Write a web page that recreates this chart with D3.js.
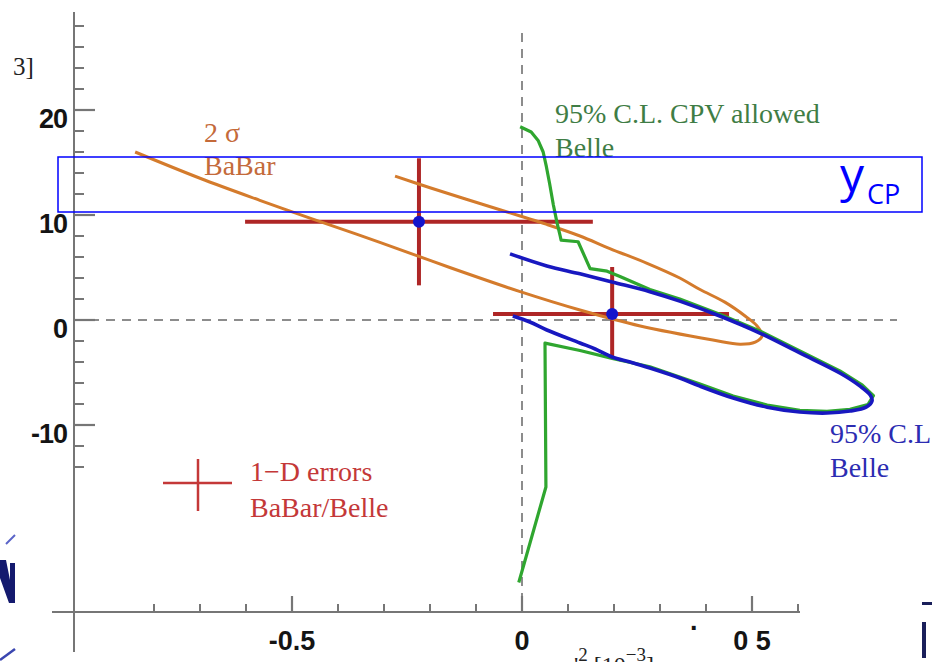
<!DOCTYPE html>
<html>
<head>
<meta charset="utf-8">
<script src="https://cdn.jsdelivr.net/npm/d3@7"></script>
<style>
  html, body { margin: 0; padding: 0; background: #fff; }
  svg { display: block; }
</style>
</head>
<body>
<svg id="chart" width="932" height="662"></svg>
<script>
// ---- data (x'^2 in 1e-3, y' in 1e-3) ----
const babarContour = [
  [-0.841, 16.0], [-0.700, 13.5], [-0.570, 11.4], [-0.461, 9.7], [-0.309, 7.4],
  [-0.157, 5.0], [-0.004, 2.7], [0.126, 0.95], [0.257, -0.57], [0.415, -1.9],
  [0.474, -2.3], [0.507, -2.1], [0.522, -1.5], [0.511, -0.57], [0.485, 0.38],
  [0.441, 1.7], [0.387, 2.9], [0.343, 4.0], [0.272, 5.4], [0.191, 6.8],
  [0.126, 8.0], [0.054, 9.1], [-0.004, 9.9], [-0.128, 11.6], [-0.200, 12.6],
  [-0.276, 13.7]
];

const belleContour = [
  [-0.026, 6.3], [0.054, 5.15], [0.126, 4.4], [0.198, 3.6], [0.278, 2.7],
  [0.343, 1.8], [0.430, 0.38], [0.517, -1.24], [0.604, -3.14], [0.691, -5.05],
  [0.735, -6.3], [0.757, -7.15], [0.761, -7.7], [0.748, -8.3], [0.713, -8.67],
  [0.663, -8.86], [0.604, -8.76], [0.533, -8.3], [0.459, -7.43], [0.387, -6.3],
  [0.343, -5.52], [0.278, -4.57], [0.235, -4.0], [0.196, -3.52], [0.159, -2.76],
  [0.126, -2.19], [0.054, -0.95], [0.017, -0.19], [-0.020, 0.38]
];

const belleCpvAllowed = [
  [-0.004, 18.4], [0.020, 17.9], [0.035, 17.1], [0.046, 16.0], [0.053, 14.6],
  [0.060, 13.0], [0.068, 11.0], [0.076, 9.3], [0.083, 8.0], [0.085, 7.6],
  [0.122, 7.45], [0.148, 4.9], [0.185, 4.65], [0.213, 4.15], [0.278, 2.9],
  [0.343, 2.0], [0.430, 0.55], [0.517, -1.05], [0.604, -2.95], [0.691, -4.85],
  [0.740, -6.2], [0.764, -7.2], [0.752, -8.05], [0.713, -8.5], [0.663, -8.7],
  [0.604, -8.6], [0.533, -8.1], [0.459, -7.25], [0.387, -6.1], [0.278, -4.45],
  [0.196, -3.65], [0.126, -2.9], [0.050, -2.2], [0.052, -15.9], [-0.007, -25.0]
];

// measurements: central value with lower/upper edges of the 1-D errors
const measurementNames = ["BaBar", "Belle"];
const measX   = [-0.224, 0.196];
const measXLo = [-0.602, -0.063];
const measXHi = [0.154, 0.450];
const measY   = [9.35, 0.57];
const measYLo = [3.3, -3.52];
const measYHi = [15.4, 5.05];

const xMinorTicks = d3.range(-8, 7).map(d => d / 10);
const xMajorTicks = [-0.5, 0, 0.5];
const xTickLabels = ["-0.5", "0", "0 5"];
const yMinorTicks = d3.range(-14, 29, 2);
const yMajorTicks = [-10, 0, 10, 20];
const yTickLabels = ["-10", "0", "10", "20"];

// ---- scales ----
const x = d3.scaleLinear().domain([-0.8, 0.6]).range([154, 798]);
const y = d3.scaleLinear().domain([-28, 28]).range([614, 26]);

const svg = d3.select("#chart");
svg.append("rect").attr("width", 932).attr("height", 662).attr("fill", "#fff");

const axisX0 = 74;    // vertical axis position
const axisY0 = 612;   // horizontal axis position
const axisColor = "#767676";

// reference dashed lines at zero
svg.append("line")
  .attr("x1", axisX0).attr("x2", 897).attr("y1", y(0)).attr("y2", y(0))
  .attr("stroke", "#8c8c8c").attr("stroke-width", 2).attr("stroke-dasharray", "9,7");
svg.append("line")
  .attr("x1", x(0)).attr("x2", x(0)).attr("y1", 33).attr("y2", axisY0)
  .attr("stroke", "#8c8c8c").attr("stroke-width", 2).attr("stroke-dasharray", "9,7");

// axis lines
svg.append("line").attr("x1", axisX0).attr("x2", axisX0).attr("y1", 12).attr("y2", 652)
  .attr("stroke", axisColor).attr("stroke-width", 2);
svg.append("line").attr("x1", 52).attr("x2", x(0.6) + 2).attr("y1", axisY0).attr("y2", axisY0)
  .attr("stroke", axisColor).attr("stroke-width", 2);

// y ticks (pointing into the plot)
svg.append("g").selectAll("line").data(yMinorTicks).join("line")
  .attr("x1", axisX0).attr("x2", axisX0 + 10)
  .attr("y1", d => y(d)).attr("y2", d => y(d))
  .attr("stroke", axisColor).attr("stroke-width", 2);
svg.append("g").selectAll("line").data(yMajorTicks).join("line")
  .attr("x1", axisX0).attr("x2", axisX0 + 21)
  .attr("y1", d => y(d)).attr("y2", d => y(d))
  .attr("stroke", axisColor).attr("stroke-width", 2.2);
svg.append("g").selectAll("text").data(yMajorTicks).join("text")
  .attr("x", 67).attr("y", d => y(d) + 18)
  .attr("text-anchor", "end")
  .attr("font-family", "'Liberation Sans', Arial, sans-serif")
  .attr("font-weight", "bold").attr("font-size", 27).attr("fill", "#141414")
  .attr("letter-spacing", -1)
  .text((d, i) => yTickLabels[i]);

// x ticks (pointing up)
svg.append("g").selectAll("line").data(xMinorTicks).join("line")
  .attr("x1", d => x(d)).attr("x2", d => x(d))
  .attr("y1", axisY0).attr("y2", axisY0 - 8)
  .attr("stroke", axisColor).attr("stroke-width", 2);
svg.append("g").selectAll("line").data(xMajorTicks).join("line")
  .attr("x1", d => x(d)).attr("x2", d => x(d))
  .attr("y1", axisY0).attr("y2", axisY0 - 16)
  .attr("stroke", axisColor).attr("stroke-width", 2.2);
svg.append("g").selectAll("text").data(xMajorTicks).join("text")
  .attr("x", d => x(d)).attr("y", 650)
  .attr("text-anchor", "middle")
  .attr("font-family", "'Liberation Sans', Arial, sans-serif")
  .attr("font-weight", "bold").attr("font-size", 27).attr("fill", "#141414")
  .text((d, i) => xTickLabels[i]);
svg.append("text").attr("x", 690).attr("y", 630)
  .attr("font-family", "'Liberation Sans', Arial, sans-serif")
  .attr("font-weight", "bold").attr("font-size", 27).attr("fill", "#141414")
  .text(".");

// axis titles (partly off the page)
const xTitle = svg.append("text").attr("x", 562).attr("y", 673)
  .attr("font-family", "'Liberation Serif', 'Times New Roman', serif")
  .attr("font-size", 24).attr("fill", "#222");
xTitle.append("tspan").text("x'");
xTitle.append("tspan").attr("dy", -12).attr("font-size", 19).text("2");
xTitle.append("tspan").attr("dy", 12).text(" [10");
xTitle.append("tspan").attr("dy", -12).attr("font-size", 19).text("−3");
xTitle.append("tspan").attr("dy", 12).text("]");

svg.append("text").attr("x", 13).attr("y", 75)
  .attr("font-family", "'Liberation Serif', 'Times New Roman', serif")
  .attr("font-size", 25).attr("fill", "#222")
  .text("3]");

// ---- contours ----
const smooth = d3.line().x(d => x(d[0])).y(d => y(d[1])).curve(d3.curveCatmullRom.alpha(0.5));
const straight = d3.line().x(d => x(d[0])).y(d => y(d[1]));

// 1-D error bars
const errColor = "#ae2626";
const eb = svg.append("g");
measX.forEach((cx, i) => {
  eb.append("line").attr("x1", x(measXLo[i])).attr("x2", x(measXHi[i]))
    .attr("y1", y(measY[i])).attr("y2", y(measY[i]))
    .attr("stroke", errColor).attr("stroke-width", 4);
  eb.append("line").attr("x1", x(cx)).attr("x2", x(cx))
    .attr("y1", y(measYLo[i])).attr("y2", y(measYHi[i]))
    .attr("stroke", errColor).attr("stroke-width", 4);
});

svg.append("path").datum(babarContour).attr("d", smooth)
  .attr("fill", "none").attr("stroke", "#d47b2c").attr("stroke-width", 3);

svg.append("path").datum(belleCpvAllowed).attr("d", straight)
  .attr("fill", "none").attr("stroke", "#2fa62f").attr("stroke-width", 3.2)
  .attr("stroke-linejoin", "round");

svg.append("path").datum(belleContour).attr("d", smooth)
  .attr("fill", "none").attr("stroke", "#1818c0").attr("stroke-width", 3.6);

svg.append("g").selectAll("circle").data(measX).join("circle")
  .attr("cx", d => x(d)).attr("cy", (d, i) => y(measY[i]))
  .attr("r", 6).attr("fill", "#1414cc");

// ---- annotations ----
const serif = "'Liberation Serif', 'Times New Roman', serif";
function label(lines, x0, y0, dy, color) {
  lines.forEach((t, i) => {
    svg.append("text").attr("x", x0).attr("y", y0 + i * dy)
      .attr("font-family", serif).attr("font-size", 28).attr("fill", color)
      .text(t);
  });
}
label(["2 σ", "BaBar"], 204, 142, 33, "#c46a3a");
label(["95% C.L. CPV allowed", "Belle"], 555, 123, 34, "#3f7d45");
label(["95% C.L", "Belle"], 830, 443, 34, "#2c2cb2");
label(["1−D errors", "BaBar/Belle"], 250, 481, 36, "#c43838");

// legend glyph for the error bars
svg.append("line").attr("x1", 163).attr("x2", 232).attr("y1", 483).attr("y2", 483)
  .attr("stroke", "#c43838").attr("stroke-width", 2.5);
svg.append("line").attr("x1", 198).attr("x2", 198).attr("y1", 459).attr("y2", 511)
  .attr("stroke", "#c43838").attr("stroke-width", 2.5);

// y_CP highlight band
svg.append("rect").attr("x", 58).attr("y", 157).attr("width", 864).attr("height", 55)
  .attr("fill", "none").attr("stroke", "#0000ff").attr("stroke-width", 1.5);
svg.append("text").attr("x", 840).attr("y", 192)
  .attr("font-family", "'Open Sans', 'Noto Sans', sans-serif")
  .attr("font-size", 48).attr("fill", "#0000ff").text("y");
svg.append("text").attr("x", 867).attr("y", 204)
  .attr("font-family", "'Open Sans', 'Noto Sans', sans-serif")
  .attr("font-size", 27).attr("fill", "#0000ff").text("CP");

// page edge fragments
svg.append("path").attr("d", "M0,560 L6,560 L10,580 L10,563 L15,563 L15,603 L9,603 L0,578 Z")
  .attr("fill", "#141a6e");
svg.append("line").attr("x1", 6).attr("y1", 544).attr("x2", 15).attr("y2", 535)
  .attr("stroke", "#5a64c8").attr("stroke-width", 2);
svg.append("line").attr("x1", 0).attr("y1", 660).attr("x2", 15).attr("y2", 649)
  .attr("stroke", "#3a46b0").attr("stroke-width", 2.5);
svg.append("rect").attr("x", 922).attr("y", 602).attr("width", 10).attr("height", 3).attr("fill", "#1a1f5a");
svg.append("rect").attr("x", 922).attr("y", 622).attr("width", 4).attr("height", 36).attr("fill", "#1a1f5a");
</script>
</body>
</html>
